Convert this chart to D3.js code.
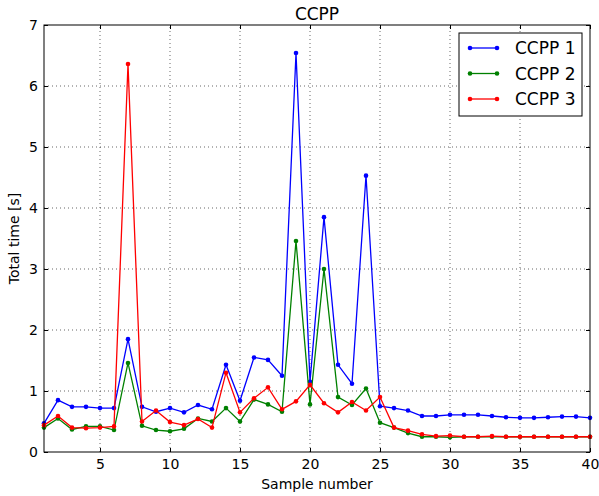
<!DOCTYPE html>
<html>
<head>
<meta charset="utf-8">
<script src="https://cdn.jsdelivr.net/npm/d3@7"></script>
<style>
  body { margin: 0; background: #fff; }
  svg { font-family: "DejaVu Sans", sans-serif; }
</style>
</head>
<body>
<svg id="chart" width="599" height="496"></svg>
<script>
const samples = d3.range(1, 41);
const ccpp1 = [0.47, 0.85, 0.74, 0.74, 0.72, 0.72, 1.85, 0.74, 0.66, 0.72,
               0.65, 0.77, 0.70, 1.43, 0.84, 1.55, 1.51, 1.25, 6.54, 1.15,
               3.85, 1.43, 1.12, 4.53, 0.75, 0.72, 0.68, 0.59, 0.59, 0.61,
               0.61, 0.61, 0.59, 0.57, 0.56, 0.56, 0.57, 0.58, 0.58, 0.56];
const ccpp2 = [0.40, 0.55, 0.37, 0.42, 0.42, 0.36, 1.46, 0.43, 0.36, 0.34,
               0.38, 0.55, 0.50, 0.72, 0.50, 0.86, 0.78, 0.66, 3.46, 0.78,
               3.00, 0.90, 0.77, 1.04, 0.48, 0.40, 0.31, 0.25, 0.25, 0.24,
               0.25, 0.25, 0.25, 0.25, 0.25, 0.25, 0.25, 0.25, 0.25, 0.25];
const ccpp3 = [0.44, 0.59, 0.40, 0.39, 0.40, 0.42, 6.36, 0.50, 0.68, 0.49,
               0.44, 0.54, 0.40, 1.30, 0.65, 0.88, 1.06, 0.70, 0.83, 1.10,
               0.80, 0.65, 0.82, 0.68, 0.90, 0.40, 0.35, 0.29, 0.26, 0.27,
               0.25, 0.25, 0.26, 0.25, 0.25, 0.25, 0.25, 0.25, 0.25, 0.25];
const seriesNames = ["CCPP 1", "CCPP 2", "CCPP 3"];
const seriesColors = ["#0000ff", "#008000", "#ff0000"];
const xTicks = [5, 10, 15, 20, 25, 30, 35, 40];
const yTicks = [0, 1, 2, 3, 4, 5, 6, 7];

const svg = d3.select("#chart");
const margin = { left: 44, top: 25, right: 9, bottom: 44 };
const width = 599, height = 496;

const x = d3.scaleLinear().domain([1, 40]).range([margin.left, width - margin.right]);
const y = d3.scaleLinear().domain([0, 7]).range([height - margin.bottom, margin.top]);

// grid
const grid = svg.append("g");
grid.selectAll(".gx").data(xTicks.filter(d => d < 40)).enter().append("line")
  .attr("x1", d => x(d)).attr("x2", d => x(d))
  .attr("y1", y(0)).attr("y2", y(7))
  .attr("stroke", "#000").attr("stroke-width", 0.6).attr("stroke-dasharray", "1,3");
grid.selectAll(".gy").data(yTicks.filter(d => d > 0 && d < 7)).enter().append("line")
  .attr("x1", x(1)).attr("x2", x(40))
  .attr("y1", d => y(d)).attr("y2", d => y(d))
  .attr("stroke", "#000").attr("stroke-width", 0.6).attr("stroke-dasharray", "1,3");

// axes, ticks inward on all sides
const axB = svg.append("g").attr("transform", `translate(0,${y(0)})`)
  .call(d3.axisBottom(x).tickValues(xTicks).tickSizeInner(-4).tickSizeOuter(0)
    .tickPadding(7).tickFormat(d3.format("d")));
const axT = svg.append("g").attr("transform", `translate(0,${y(7)})`)
  .call(d3.axisTop(x).tickValues(xTicks).tickSizeInner(-4).tickSizeOuter(0).tickFormat(""));
const axL = svg.append("g").attr("transform", `translate(${x(1)},0)`)
  .call(d3.axisLeft(y).tickValues(yTicks).tickSizeInner(-4).tickSizeOuter(0)
    .tickPadding(6).tickFormat(d3.format("d")));
const axR = svg.append("g").attr("transform", `translate(${x(40)},0)`)
  .call(d3.axisRight(y).tickValues(yTicks).tickSizeInner(-4).tickSizeOuter(0).tickFormat(""));
[axB, axT, axL, axR].forEach(a => {
  a.select(".domain").remove();
  a.selectAll("text").attr("font-size", 14).attr("fill", "#000")
    .attr("font-family", "DejaVu Sans, sans-serif");
});

// lines
const line = d3.line().x((d, i) => x(samples[i])).y(d => y(d));
[ccpp1, ccpp2, ccpp3].forEach((vals, k) => {
  const g = svg.append("g");
  g.append("path").datum(vals).attr("d", line)
    .attr("fill", "none").attr("stroke", seriesColors[k]).attr("stroke-width", 1.3);
  g.selectAll("circle").data(vals).enter().append("circle")
    .attr("cx", (d, i) => x(samples[i])).attr("cy", d => y(d))
    .attr("r", 2.3).attr("fill", seriesColors[k]);
});

// frame
svg.append("rect").attr("x", x(1)).attr("y", y(7))
  .attr("width", x(40) - x(1)).attr("height", y(0) - y(7))
  .attr("fill", "none").attr("stroke", "#000").attr("stroke-width", 1);

// title and labels
svg.append("text").attr("x", (x(1) + x(40)) / 2).attr("y", 19.5)
  .attr("text-anchor", "middle").attr("font-size", 17).text("CCPP");
svg.append("text").attr("x", (x(1) + x(40)) / 2).attr("y", 489)
  .attr("text-anchor", "middle").attr("font-size", 14).text("Sample number");
svg.append("text").attr("transform", `translate(19,${(y(0) + y(7)) / 2}) rotate(-90)`)
  .attr("text-anchor", "middle").attr("font-size", 14).text("Total time [s]");

// legend
const lg = svg.append("g");
lg.append("rect").attr("x", 459).attr("y", 33).attr("width", 123).attr("height", 83)
  .attr("fill", "#fff").attr("stroke", "#000").attr("stroke-width", 1);
seriesNames.forEach((name, k) => {
  const ly = 48 + k * 25.5;
  lg.append("line").attr("x1", 470).attr("x2", 497).attr("y1", ly).attr("y2", ly)
    .attr("stroke", seriesColors[k]).attr("stroke-width", 1.3);
  lg.append("circle").attr("cx", 470).attr("cy", ly).attr("r", 2.3).attr("fill", seriesColors[k]);
  lg.append("circle").attr("cx", 497).attr("cy", ly).attr("r", 2.3).attr("fill", seriesColors[k]);
  lg.append("text").attr("x", 515).attr("y", ly + 6).attr("font-size", 17).text(name);
});
</script>
</body>
</html>
